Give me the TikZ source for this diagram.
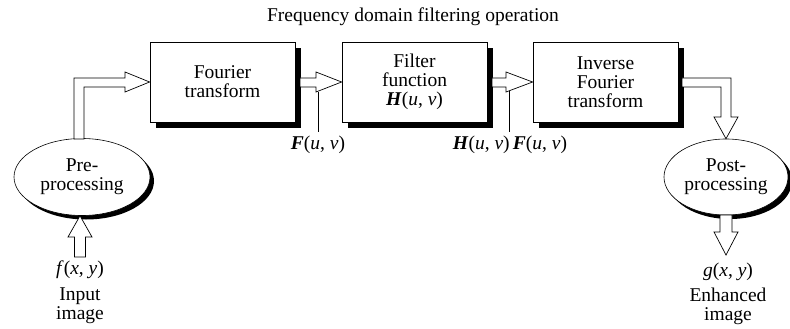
\documentclass[tikz,border=0pt]{standalone}
\usepackage{fontspec}
\setmainfont{Liberation Serif}
\usetikzlibrary{shadows,shapes.geometric,calc}
\newcommand{\bv}[1]{\textbf{\textit{#1}}}
\newcommand{\iv}[1]{\textit{#1}}
\begin{document}
\begin{tikzpicture}[x=1pt,y=-1pt,
  txt/.style={font=\fontsize{19.5}{19}\selectfont, align=center, inner sep=0pt},
  blockbox/.style={draw, fill=white, line width=0.8pt, minimum width=145pt, minimum height=80pt,
     drop shadow={shadow xshift=6pt,shadow yshift=-6pt,opacity=1,fill=black}, txt},
  procell/.style={ellipse, draw, fill=white, line width=0.6pt,
     drop shadow={shadow xshift=4pt,shadow yshift=-4pt,opacity=1,fill=black}, txt},
  hollow/.style={draw, fill=white, line width=0.7pt, line join=miter},
  tick/.style={draw, line width=0.8pt}]
\useasboundingbox (0,0) rectangle (790,329);

\node[txt] (title) at (413,17) {Frequency domain filtering operation};

\node[blockbox] (ft) at (222.5,82) {Fourier\\transform};
\node[blockbox] (filt) at (414.5,82) {Filter\\function\\\bv{H}(\iv{u}, \iv{v})};
\node[blockbox] (ift) at (605.5,82) {Inverse\\Fourier\\transform};

\node[procell, minimum width=136pt, minimum height=77pt] (pre) at (82,177) {Pre-\\processing};
\node[procell, minimum width=124pt, minimum height=76pt] (post) at (726,177) {Post-\\processing};

% pre -> Fourier
\draw[hollow] (74,139) -- (74,78) -- (125,78) -- (125,72) -- (ft.west) -- (125,92) -- (125,87) -- (84,87) -- (84,139) -- cycle;
% Fourier -> Filter
\draw[hollow] (300,78) -- (316,78) -- (316,72) -- (filt.west) -- (316,92) -- (316,87) -- (300,87) -- cycle;
% Filter -> Inverse
\draw[hollow] (492,78) -- (506,78) -- (506,72) -- (ift.west) -- (506,92) -- (506,87) -- (492,87) -- cycle;
% Inverse -> post
\draw[hollow] (682,78) -- (731,78) -- (731,117) -- (738,117) -- (post.north) -- (714,117) -- (721,117) -- (721,87) -- (682,87) -- cycle;

% input
\coordinate (fin) at (80,257);
\draw[hollow] (74.5,257) -- (74.5,237) -- (68,237) -- (pre.south -| fin) -- (92,237) -- (85.5,237) -- (85.5,257) -- cycle;
\node[txt] (fxy) at (80,270) {\iv{f}(\iv{x}, \iv{y})};
\node[txt] (inimg) at (80,306) {Input\\image};

% output
\coordinate (gout) at (726,255);
\draw[hollow] (720,215) -- (720,232) -- (714,232) -- (gout) -- (738,232) -- (732,232) -- (732,215) -- cycle;
\node[txt] (gxy) at (728,272) {\iv{g}(\iv{x}, \iv{y})};
\node[txt] (outimg) at (728,306) {Enhanced\\image};

% spectrum labels
\coordinate (ftick) at (318,92);
\coordinate (fend) at (318,132);
\draw[tick] (ftick) -- (fend);
\node[txt] (flab) at (318,145) {\bv{F}(\iv{u}, \iv{v})};
\coordinate (htick) at (509,91);
\coordinate (hend) at (509,132);
\draw[tick] (htick) -- (hend);
\node[txt] (hlab) at (510,145) {\bv{H}(\iv{u}, \iv{v})\,\bv{F}(\iv{u}, \iv{v})};
\end{tikzpicture}
\end{document}
